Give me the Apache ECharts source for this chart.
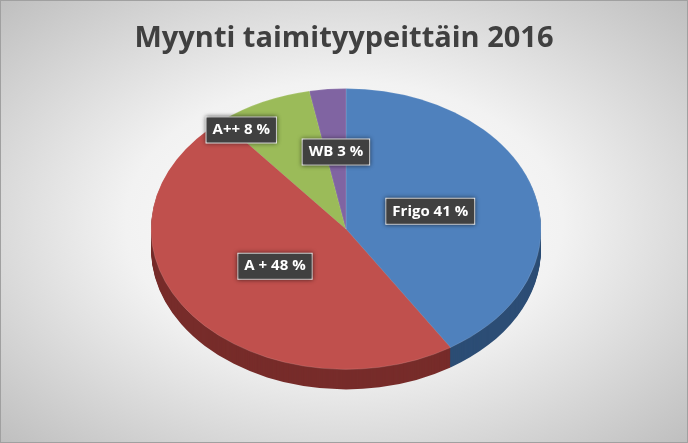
<!DOCTYPE html>
<html><head><meta charset="utf-8">
<script src="https://cdn.jsdelivr.net/npm/echarts@6/dist/echarts.min.js"></script>
<style>html,body{margin:0;padding:0}#c{width:688px;height:443px;background:radial-gradient(ellipse at center,#ffffff 0%,#f2f2f2 45%,#bfbfbf 100%);box-sizing:border-box;border:1px solid #a0a0a0}</style>
</head><body><div id="c"></div>
<script>
const categories=['Frigo','A +','A++','WB'];
const values=[41,48,8,3];
const colors=['#4f81bd','#c0504d','#9bbb59','#8064a2'];
const sideColors=['#2c4d75','#772c2a','#5f7530','#4d3b62'];
const labelFrac=[0.45,0.45,0.78,0.55];
const labelShift=[[0,0],[0,0],[-40,0],[0,0]];
const chart=echarts.init(document.getElementById('c'));
const total=values.reduce((a,b)=>a+b,0);
const CX=345,CY=228,R=195,SY=0.72,DEPTH=20;
function renderItem(params,api){
  const i=params.dataIndex;
  let cum=0;for(let k=0;k<i;k++)cum+=values[k];
  const s=-Math.PI/2+cum/total*2*Math.PI, e=s+values[i]/total*2*Math.PI;
  const children=[];
  for(let d=DEPTH;d>0;d-=1){
    children.push({type:'sector',z2:0,shape:{cx:0,cy:d/SY,r:R,startAngle:s,endAngle:e,clockwise:true},style:{fill:sideColors[i]}});
  }
  children.push({type:'sector',z2:5,shape:{cx:0,cy:0,r:R,startAngle:s,endAngle:e,clockwise:true},style:{fill:colors[i],stroke:'rgba(255,255,255,0.3)',lineWidth:0.5}});
  const m=(s+e)/2, lr=R*labelFrac[i];
  const lx=Math.cos(m)*lr+labelShift[i][0], ly=Math.sin(m)*lr*SY+labelShift[i][1];
  return {type:'group',children:[
    {type:'group',x:CX,y:CY,scaleY:SY,children:children},
    {type:'text',x:CX+lx,y:CY+ly,z2:10,style:{text:categories[i]+' '+values[i]+' %',fill:'#fff',font:'bold 15px "Open Sans", sans-serif',align:'center',verticalAlign:'middle',backgroundColor:'#404040',padding:[5,6],borderColor:'#fff',borderWidth:1,shadowBlur:4,shadowColor:'rgba(0,0,0,0.5)'}}
  ]};
}
chart.setOption({
  title:{text:'Myynti taimityypeittäin 2016',left:'center',top:18,textStyle:{fontSize:29,fontWeight:'bold',color:'#404040',fontFamily:'"Open Sans", sans-serif'}},
  series:[{type:'custom',coordinateSystem:'none',renderItem:renderItem,data:values.map((v,i)=>[i,v])}]
});
</script></body></html>
